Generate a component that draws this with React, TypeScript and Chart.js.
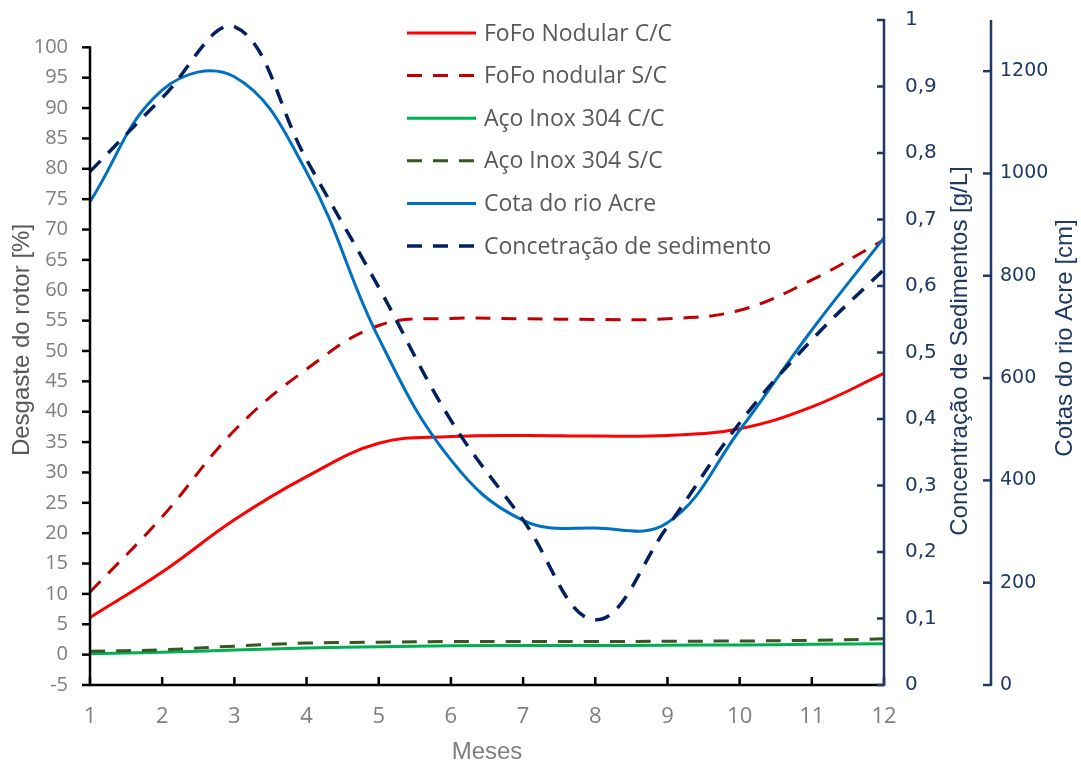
import { useEffect, useRef } from 'react';
import { Chart, registerables } from 'chart.js';

Chart.register(...registerables);

// ---- data ----
const months = ['1', '2', '3', '4', '5', '6', '7', '8', '9', '10', '11', '12'];
const fofoCC = [6.1, 13.6, 22.2, 29.3, 34.8, 35.9, 36.1, 36.0, 36.1, 37.2, 40.8, 46.3];
const fofoSC = [10.3, 22.7, 36.9, 47.0, 54.2, 55.35, 55.3, 55.2, 55.3, 56.7, 61.7, 68.3];
const acoCC = [0.15, 0.4, 0.76, 1.1, 1.3, 1.45, 1.5, 1.5, 1.55, 1.6, 1.7, 1.8];
const acoSC = [0.55, 0.8, 1.4, 1.9, 2.05, 2.15, 2.15, 2.15, 2.2, 2.25, 2.35, 2.6];
const cotaRio = [945, 1163, 1189, 1003, 678, 440, 322, 307, 317, 498, 694, 874];
const concSed = [0.772, 0.883, 0.99, 0.79, 0.598, 0.398, 0.248, 0.098, 0.238, 0.394, 0.519, 0.625];

const seriesNames = [
  'FoFo Nodular C/C',
  'FoFo nodular S/C',
  'Aço Inox 304 C/C',
  'Aço Inox 304 S/C',
  'Cota do rio Acre',
  'Concetração de sedimento',
];

const leftTicks = [-5, 0, 5, 10, 15, 20, 25, 30, 35, 40, 45, 50, 55, 60, 65, 70, 75, 80, 85, 90, 95, 100];
const concTicks = [0, 0.1, 0.2, 0.3, 0.4, 0.5, 0.6, 0.7, 0.8, 0.9, 1];
const concTickLabels = ['0', '0,1', '0,2', '0,3', '0,4', '0,5', '0,6', '0,7', '0,8', '0,9', '1'];
const cotaTicks = [0, 200, 400, 600, 800, 1000, 1200];
const cotaTickLabels = ['0', '200', '400', '600', '800', '1000', '1200'];

const leftTitle = 'Desgaste do rotor [%]';
const concTitle = 'Concentração de Sedimentos [g/L]';
const cotaTitle = 'Cotas do rio Acre [cm]';
const xTitle = 'Meses';

const NAVY = '#1f3864';
const GRAY = '#7f7f7f';
const DARKGRAY = '#595959';
const DASH = [15, 11];

const fixBox = (w: number | null, h: number | null) => (s: any) => {
  if (w !== null) s.width = w;
  if (h !== null) s.height = h;
  s.paddingTop = 0;
  s.paddingBottom = 0;
  s.paddingLeft = 0;
  s.paddingRight = 0;
};

const axesPlugin = {
  id: 'axesDecor',
  afterDatasetsDraw(chart: any) {
    const { ctx, chartArea: ca, scales } = chart;
    const y = scales.y, x = scales.x, yc = scales.yConc, yk = scales.yCota;
    const line = (x1: number, y1: number, x2: number, y2: number) => {
      ctx.beginPath();
      ctx.moveTo(x1, y1);
      ctx.lineTo(x2, y2);
      ctx.stroke();
    };
    ctx.save();
    ctx.setLineDash([]);
    ctx.lineCap = 'butt';
    ctx.lineWidth = 2.5;
    // left axis
    ctx.strokeStyle = '#000';
    line(ca.left, y.getPixelForValue(100) - 1, ca.left, ca.bottom + 1);
    leftTicks.forEach((v) => {
      const p = y.getPixelForValue(v);
      line(ca.left - 8, p, ca.left, p);
    });
    // x axis
    line(ca.left - 1, ca.bottom, ca.right, ca.bottom);
    months.forEach((_, i) => {
      const p = x.getPixelForValue(i);
      line(p, ca.bottom, p, ca.bottom - 8);
    });
    // concentration axis
    ctx.strokeStyle = NAVY;
    line(ca.right, ca.bottom + 1, ca.right, yc.getPixelForValue(1) - 1);
    concTicks.forEach((v) => {
      const p = yc.getPixelForValue(v);
      line(ca.right - 7, p, ca.right, p);
    });
    // cotas axis
    const xk = yk.left + 1;
    line(xk, yk.getPixelForValue(0) + 1, xk, yk.getPixelForValue(1300));
    cotaTicks.forEach((v) => {
      const p = yk.getPixelForValue(v);
      line(xk - 8, p, xk, p);
    });
    ctx.restore();
  },
  afterDraw(chart: any) {
    const { ctx, chartArea: ca } = chart;
    ctx.save();
    const drawText = (t: string, cx: number, cy: number, rot: number, font: string, color: string) => {
      ctx.save();
      ctx.translate(cx, cy);
      ctx.rotate(rot);
      ctx.font = font;
      ctx.fillStyle = color;
      ctx.textAlign = 'center';
      ctx.textBaseline = 'middle';
      ctx.fillText(t, 0, 0);
      ctx.restore();
    };
    const titleFont = '24px "Liberation Sans", Arial, sans-serif';
    drawText(leftTitle, 22, 340, -Math.PI / 2, titleFont, DARKGRAY);
    drawText(concTitle, 960, 351, -Math.PI / 2, titleFont, NAVY);
    drawText(cotaTitle, 1065, 338, -Math.PI / 2, titleFont, NAVY);
    drawText(xTitle, (ca.left + ca.right) / 2, 752, 0, titleFont, GRAY);

    // legend
    const ds = chart.data.datasets;
    ds.forEach((d: any, i: number) => {
      const yy = 33 + i * 42.6;
      ctx.save();
      ctx.strokeStyle = d.borderColor;
      ctx.lineWidth = d.borderWidth;
      ctx.setLineDash(d.borderDash || []);
      ctx.lineCap = 'butt';
      ctx.beginPath();
      ctx.moveTo(407, yy);
      ctx.lineTo(476, yy);
      ctx.stroke();
      ctx.restore();
      ctx.font = '23px "Open Sans", sans-serif';
      ctx.fillStyle = DARKGRAY;
      ctx.textAlign = 'left';
      ctx.textBaseline = 'middle';
      ctx.fillText(d.label, 484, yy + 1);
    });
    ctx.restore();
  },
};

export default function App() {
  const ref = useRef<HTMLCanvasElement>(null);
  useEffect(() => {
    if (!ref.current) return;
    const common = {
      fill: false,
      pointRadius: 0,
      pointHoverRadius: 0,
      tension: 0.4,
      borderWidth: 3,
    };
    const chart = new Chart(ref.current, {
      type: 'line',
      data: {
        labels: months,
        datasets: [
          { ...common, label: seriesNames[0], data: fofoCC, borderColor: '#ff0000', yAxisID: 'y', order: 6 },
          { ...common, label: seriesNames[1], data: fofoSC, borderColor: '#c00000', borderDash: DASH, yAxisID: 'y', order: 5 },
          { ...common, label: seriesNames[2], data: acoCC, borderColor: '#00b050', yAxisID: 'y', order: 4 },
          { ...common, label: seriesNames[3], data: acoSC, borderColor: '#375623', borderDash: DASH, yAxisID: 'y', order: 3 },
          { ...common, label: seriesNames[4], data: cotaRio, borderColor: '#0070c0', yAxisID: 'yCota', order: 2 },
          { ...common, label: seriesNames[5], data: concSed, borderColor: '#002060', borderDash: DASH, borderWidth: 3.5, yAxisID: 'yConc', order: 1 },
        ],
      },
      options: {
        responsive: false,
        animation: false,
        layout: { padding: { top: 20, left: 0, right: 0, bottom: 0 } },
        plugins: { legend: { display: false }, tooltip: { enabled: false } },
        scales: {
          x: {
            type: 'category',
            offset: false,
            grid: { display: false, drawTicks: false },
            border: { display: false },
            ticks: {
              color: GRAY,
              font: { family: '"Liberation Sans Narrow", "Open Sans", sans-serif', size: 22 },
              padding: 19,
              maxRotation: 0,
              autoSkip: false,
            },
            afterFit: fixBox(null, 82),
          },
          y: {
            type: 'linear',
            position: 'left',
            min: -5,
            max: 104.5,
            grid: { display: false, drawTicks: false },
            border: { display: false },
            afterBuildTicks: (s: any) => { s.ticks = leftTicks.map((v) => ({ value: v })); },
            ticks: {
              color: GRAY,
              font: { family: '"Open Sans", sans-serif', size: 20 },
              padding: 22,
            },
            afterFit: fixBox(90, null),
          },
          yConc: {
            type: 'linear',
            position: 'right',
            min: 0,
            max: 1,
            grid: { display: false, drawTicks: false },
            border: { display: false },
            afterBuildTicks: (s: any) => { s.ticks = concTicks.map((v) => ({ value: v })); },
            ticks: {
              color: NAVY,
              font: { family: '"DejaVu Sans", sans-serif', size: 20 },
              padding: 21,
              callback: (_v: any, i: number) => concTickLabels[i],
            },
            afterFit: fixBox(106, null),
          },
          yCota: {
            type: 'linear',
            position: 'right',
            min: 0,
            max: 1300,
            grid: { display: false, drawTicks: false },
            border: { display: false },
            afterBuildTicks: (s: any) => { s.ticks = cotaTicks.map((v) => ({ value: v })); },
            ticks: {
              color: NAVY,
              font: { family: '"DejaVu Sans", sans-serif', size: 19 },
              padding: 10,
              callback: (_v: any, i: number) => cotaTickLabels[i],
            },
            afterFit: fixBox(91, null),
          },
        },
      },
      plugins: [axesPlugin],
    } as any);
    return () => chart.destroy();
  }, []);
  return (
    <div style={{ position: 'fixed', left: 0, top: 0, width: 1081, height: 767, background: '#fff' }}>
      <canvas ref={ref} width={1081} height={767} style={{ width: 1081, height: 767, display: 'block' }} />
    </div>
  );
}
